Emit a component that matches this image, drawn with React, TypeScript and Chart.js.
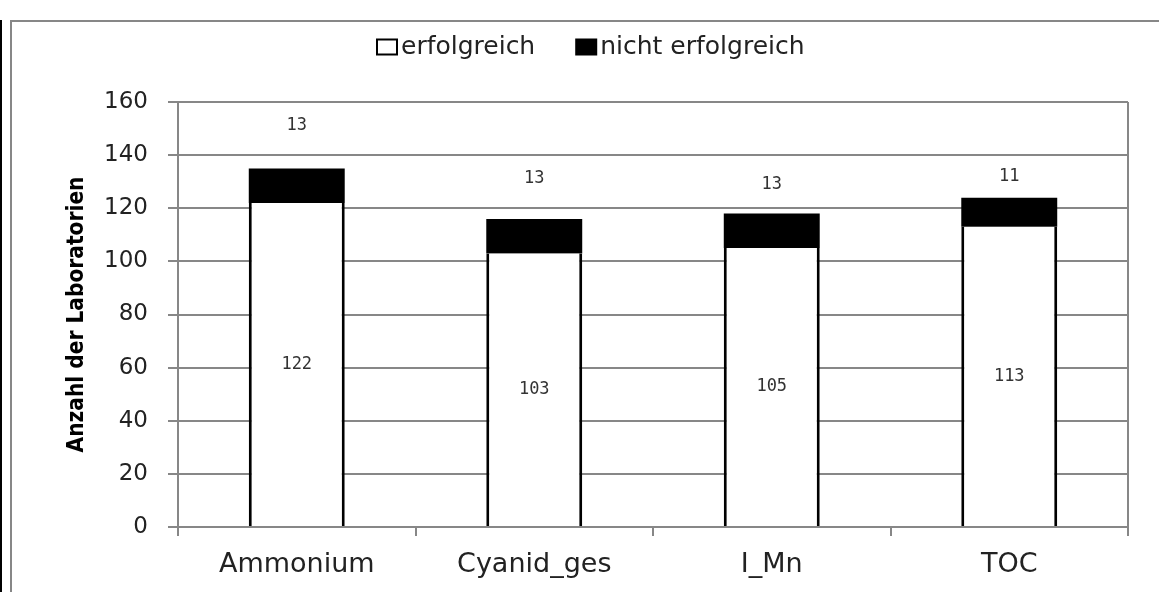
import React, { useEffect, useRef } from "react";
import { Chart, registerables } from "chart.js";

Chart.register(...registerables);

const categories = ["Ammonium", "Cyanid_ges", "I_Mn", "TOC"];
const erfolgreich = [122, 103, 105, 113];
const nichtErfolgreich = [13, 13, 13, 11];
// where the "nicht erfolgreich" value labels sit above each stack (axis units)
const nichtLabelLift = [16, 15, 11, 8];
const seriesNames = ["erfolgreich", "nicht erfolgreich"];
const yAxisTitle = "Anzahl der Laboratorien";
const yMin = 0;
const yMax = 160;
const yStep = 20;

const GRID = "#878787";
const TEXT = "#222222";
const SANS = "'DejaVu Sans', sans-serif";
const MONO = "'DejaVu Sans Mono', monospace";

const framePlugin = {
  id: "frame",
  beforeDraw(chart: any) {
    const { ctx, width, height } = chart;
    ctx.save();
    ctx.fillStyle = "#ffffff";
    ctx.fillRect(0, 0, width, height);
    // outer black edge
    ctx.fillStyle = "#000000";
    ctx.fillRect(0, 20, 2, height - 20);
    // grey chart frame
    ctx.strokeStyle = GRID;
    ctx.lineWidth = 2;
    ctx.beginPath();
    ctx.moveTo(11, height);
    ctx.lineTo(11, 21);
    ctx.lineTo(width, 21);
    ctx.stroke();
    ctx.restore();
  },
  afterDraw(chart: any) {
    const { ctx, chartArea } = chart;
    ctx.save();
    // right border of plot area
    ctx.strokeStyle = GRID;
    ctx.lineWidth = 2;
    ctx.beginPath();
    ctx.moveTo(chartArea.right, chartArea.top);
    ctx.lineTo(chartArea.right, chartArea.bottom);
    ctx.stroke();

    // y-axis title (condensed bold)
    ctx.save();
    ctx.font = `bold 23px ${SANS}`;
    ctx.fillStyle = "#000000";
    ctx.textAlign = "center";
    ctx.textBaseline = "alphabetic";
    const tw = ctx.measureText(yAxisTitle).width;
    ctx.translate(83, (chartArea.top + chartArea.bottom) / 2);
    ctx.rotate(-Math.PI / 2);
    ctx.scale(276 / tw, 1);
    ctx.fillText(yAxisTitle, 0, 0);
    ctx.restore();

    // legend
    ctx.font = `25px ${SANS}`;
    ctx.textBaseline = "middle";
    const boxW = 22;
    const boxH = 17;
    const gapBox = 3;
    const gapItem = 40;
    const w1 = ctx.measureText(seriesNames[0]).width;
    const w2 = ctx.measureText(seriesNames[1]).width;
    const total = boxW + gapBox + w1 + gapItem + boxW + gapBox + w2;
    let x = Math.round(590 - total / 2);
    const cy = 47;
    ctx.fillStyle = "#ffffff";
    ctx.fillRect(x, cy - boxH / 2, boxW, boxH);
    ctx.strokeStyle = "#000000";
    ctx.lineWidth = 2;
    ctx.strokeRect(x + 1, cy - boxH / 2 + 1, boxW - 2, boxH - 2);
    x += boxW + gapBox;
    ctx.fillStyle = TEXT;
    ctx.fillText(seriesNames[0], x, cy);
    x += w1 + gapItem;
    ctx.fillStyle = "#000000";
    ctx.fillRect(x, cy - boxH / 2, boxW, boxH);
    x += boxW + gapBox;
    ctx.fillStyle = TEXT;
    ctx.fillText(seriesNames[1], x, cy);
    ctx.restore();
  },
  afterDatasetsDraw(chart: any) {
    const { ctx } = chart;
    const yScale = chart.scales.y;
    const m0 = chart.getDatasetMeta(0).data;
    ctx.save();
    ctx.font = `17px ${MONO}`;
    ctx.fillStyle = "#333333";
    ctx.textAlign = "center";
    ctx.textBaseline = "middle";
    m0.forEach((bar: any, i: number) => {
      ctx.fillText(String(erfolgreich[i]), bar.x, (bar.y + bar.base) / 2);
      const total = erfolgreich[i] + nichtErfolgreich[i];
      const ly = yScale.getPixelForValue(total + nichtLabelLift[i]);
      ctx.fillText(String(nichtErfolgreich[i]), bar.x, ly);
    });
    ctx.restore();
  },
};

export default function App() {
  const ref = useRef<HTMLCanvasElement | null>(null);

  useEffect(() => {
    if (!ref.current) return;
    const chart = new Chart(ref.current, {
      type: "bar",
      data: {
        labels: categories,
        datasets: [
          {
            label: seriesNames[0],
            data: erfolgreich,
            backgroundColor: "#ffffff",
            borderColor: "#000000",
            borderWidth: { left: 3, right: 3, top: 0, bottom: 0 },
            borderSkipped: false,
            barPercentage: 0.404,
            categoryPercentage: 1,
          },
          {
            label: seriesNames[1],
            data: nichtErfolgreich,
            backgroundColor: "#000000",
            borderWidth: 0,
            barPercentage: 0.404,
            categoryPercentage: 1,
          },
        ],
      },
      options: {
        responsive: false,
        animation: false,
        events: [],
        layout: { padding: { top: 102, right: 31, left: 0, bottom: 0 } },
        plugins: {
          legend: { display: false },
          tooltip: { enabled: false },
          title: { display: false },
        },
        scales: {
          x: {
            stacked: true,
            grid: {
              drawOnChartArea: false,
              offset: true,
              tickLength: 9,
              color: GRID,
              lineWidth: 2,
            },
            border: { display: true, color: GRID, width: 2 },
            ticks: {
              font: { family: SANS, size: 27 },
              color: TEXT,
              padding: 13,
              maxRotation: 0,
            },
            afterFit: (s: any) => {
              s.height = 65;
            },
          },
          y: {
            stacked: true,
            min: yMin,
            max: yMax,
            ticks: {
              stepSize: yStep,
              font: { family: SANS, size: 23 },
              color: TEXT,
              padding: 20,
            },
            grid: { color: GRID, lineWidth: 2, tickLength: 10 },
            border: { display: true, color: GRID, width: 2 },
            title: { display: false },
            afterFit: (s: any) => {
              s.width = 178;
            },
          },
        },
      },
      plugins: [framePlugin],
    });
    return () => chart.destroy();
  }, []);

  return (
    <div style={{ position: "absolute", left: 0, top: 0, width: 1159, height: 592, background: "#fff" }}>
      <canvas ref={ref} width={1159} height={592} style={{ width: 1159, height: 592, display: "block" }} />
    </div>
  );
}
